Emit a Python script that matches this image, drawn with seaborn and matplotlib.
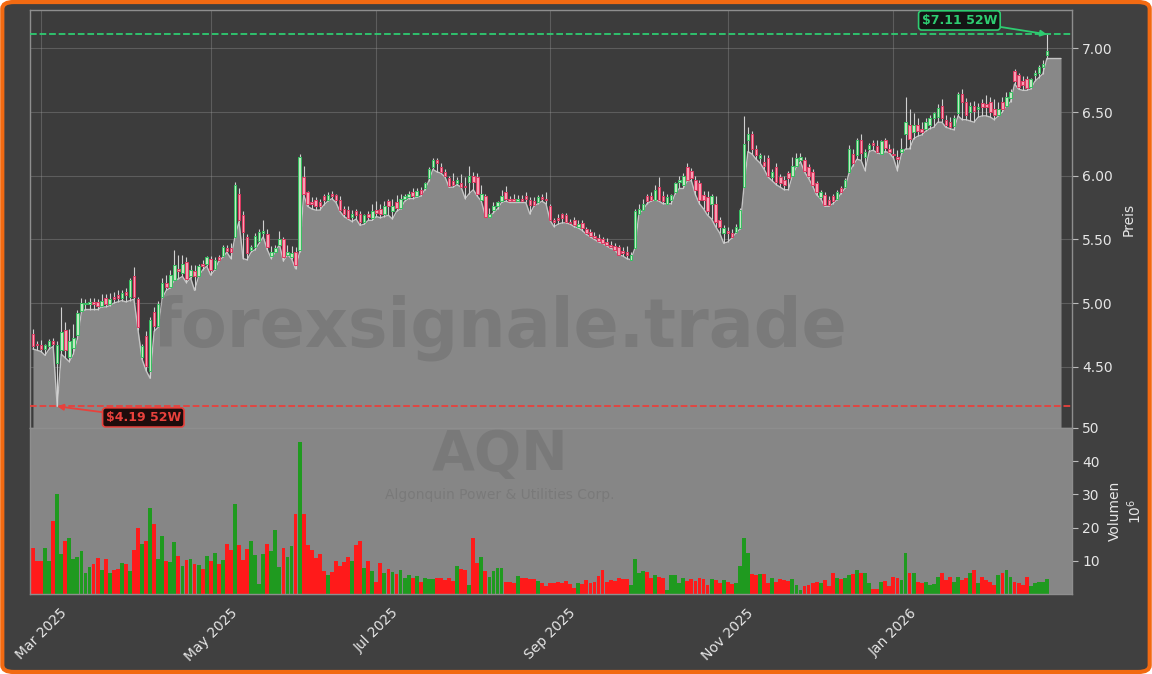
import numpy as np
import pandas as pd
import seaborn as sns
import matplotlib.pyplot as plt
import matplotlib.ticker as mticker
from matplotlib.patches import FancyBboxPatch

sns.set_style("dark")
plt.rcParams['font.family'] = ['DejaVu Sans']

ticker = "AQN"
company = "Algonquin Power & Utilities Corp."
watermark = "forexsignale.trade"

opens = [
    4.76, 4.68, 4.67, 4.64, 4.66, 4.70, 4.53, 4.63, 4.79, 4.58, 4.65, 4.75,
    4.94, 4.99, 4.99, 5.01, 5.01, 4.98, 5.04, 4.99, 5.05, 5.06, 5.04, 5.09,
    5.05, 5.21, 5.03, 4.58, 4.74, 4.47, 4.93, 4.82, 5.05, 5.16, 5.13, 5.18,
    5.27, 5.24, 5.32, 5.21, 5.25, 5.21, 5.31, 5.31, 5.35, 5.27, 5.36, 5.37,
    5.43, 5.43, 5.52, 5.86, 5.69, 5.52, 5.42, 5.44, 5.49, 5.55, 5.54, 5.37,
    5.40, 5.46, 5.50, 5.38, 5.36, 5.40, 5.42, 5.99, 5.87, 5.79, 5.81, 5.79,
    5.84, 5.81, 5.86, 5.85, 5.81, 5.74, 5.73, 5.68, 5.72, 5.70, 5.64, 5.70,
    5.67, 5.73, 5.74, 5.70, 5.80, 5.72, 5.79, 5.75, 5.82, 5.83, 5.87, 5.84,
    5.89, 5.90, 5.98, 6.07, 6.12, 6.07, 6.03, 5.98, 5.96, 5.94, 5.94, 5.92,
    5.95, 6.00, 5.99, 5.81, 5.84, 5.68, 5.73, 5.76, 5.80, 5.87, 5.82, 5.82,
    5.80, 5.82, 5.84, 5.81, 5.80, 5.79, 5.83, 5.82, 5.76, 5.65, 5.67, 5.70,
    5.69, 5.64, 5.65, 5.60, 5.63, 5.58, 5.56, 5.53, 5.51, 5.50, 5.48, 5.46,
    5.45, 5.44, 5.41, 5.40, 5.34, 5.43, 5.70, 5.73, 5.84, 5.84, 5.81, 5.91,
    5.84, 5.78, 5.81, 5.87, 5.95, 5.93, 6.07, 6.04, 5.97, 5.94, 5.85, 5.83,
    5.78, 5.78, 5.65, 5.55, 5.57, 5.55, 5.56, 5.59, 5.91, 6.28, 6.33, 6.21,
    6.14, 6.11, 6.14, 5.99, 6.07, 5.99, 5.97, 6.02, 6.00, 6.08, 6.12, 6.12,
    6.07, 6.03, 5.94, 5.83, 5.85, 5.81, 5.84, 5.82, 5.90, 5.91, 6.03, 6.17,
    6.16, 6.28, 6.15, 6.21, 6.26, 6.23, 6.17, 6.28, 6.21, 6.17, 6.15, 6.19,
    6.33, 6.40, 6.34, 6.40, 6.37, 6.37, 6.40, 6.45, 6.46, 6.55, 6.44, 6.42,
    6.39, 6.49, 6.64, 6.58, 6.50, 6.55, 6.52, 6.57, 6.56, 6.58, 6.52, 6.48,
    6.58, 6.55, 6.61, 6.82, 6.79, 6.74, 6.76, 6.70, 6.79, 6.81, 6.85, 6.95,
]
highs = [
    4.80, 4.70, 4.71, 4.68, 4.72, 4.73, 4.70, 4.97, 4.85, 4.80, 4.84, 4.95,
    5.04, 5.03, 5.04, 5.04, 5.03, 5.07, 5.07, 5.08, 5.09, 5.10, 5.10, 5.12,
    5.20, 5.28, 5.05, 4.68, 4.78, 4.89, 4.97, 5.02, 5.20, 5.22, 5.26, 5.42,
    5.38, 5.38, 5.36, 5.30, 5.30, 5.31, 5.34, 5.37, 5.37, 5.36, 5.38, 5.46,
    5.46, 5.47, 5.95, 5.90, 5.72, 5.54, 5.46, 5.55, 5.58, 5.65, 5.58, 5.45,
    5.46, 5.57, 5.52, 5.46, 5.45, 5.44, 6.17, 6.08, 5.88, 5.83, 5.83, 5.82,
    5.86, 5.87, 5.88, 5.86, 5.84, 5.76, 5.76, 5.73, 5.74, 5.72, 5.70, 5.72,
    5.78, 5.80, 5.78, 5.80, 5.82, 5.82, 5.85, 5.86, 5.86, 5.88, 5.90, 5.90,
    5.91, 5.95, 6.07, 6.14, 6.14, 6.10, 6.05, 6.00, 6.02, 5.99, 6.01, 5.99,
    6.08, 6.03, 6.02, 5.93, 5.86, 5.75, 5.79, 5.80, 5.89, 5.92, 5.84, 5.86,
    5.85, 5.85, 5.87, 5.83, 5.83, 5.85, 5.86, 5.87, 5.78, 5.67, 5.70, 5.71,
    5.71, 5.66, 5.68, 5.65, 5.65, 5.60, 5.58, 5.56, 5.54, 5.52, 5.51, 5.49,
    5.47, 5.46, 5.44, 5.45, 5.40, 5.74, 5.78, 5.82, 5.86, 5.87, 5.93, 5.99,
    5.88, 5.86, 5.86, 5.95, 6.00, 6.02, 6.10, 6.06, 6.00, 5.97, 5.88, 5.88,
    5.86, 5.84, 5.68, 5.61, 5.60, 5.58, 5.62, 5.75, 6.47, 6.38, 6.35, 6.24,
    6.18, 6.16, 6.16, 6.05, 6.10, 6.01, 6.00, 6.04, 6.15, 6.18, 6.18, 6.15,
    6.09, 6.05, 5.96, 5.89, 5.87, 5.84, 5.86, 5.89, 5.92, 5.98, 6.24, 6.21,
    6.30, 6.33, 6.21, 6.26, 6.28, 6.28, 6.28, 6.30, 6.25, 6.22, 6.20, 6.30,
    6.62, 6.52, 6.49, 6.45, 6.42, 6.45, 6.48, 6.50, 6.56, 6.60, 6.48, 6.46,
    6.48, 6.66, 6.68, 6.61, 6.58, 6.59, 6.57, 6.60, 6.63, 6.62, 6.60, 6.58,
    6.62, 6.66, 6.68, 6.84, 6.81, 6.78, 6.78, 6.77, 6.83, 6.87, 6.91, 7.11,
]
lows = [
    4.64, 4.63, 4.62, 4.59, 4.64, 4.66, 4.19, 4.60, 4.57, 4.54, 4.60, 4.72,
    4.93, 4.95, 4.95, 4.95, 4.95, 4.97, 4.97, 4.98, 5.00, 5.01, 5.02, 5.01,
    5.02, 5.03, 4.79, 4.56, 4.47, 4.41, 4.78, 4.81, 5.04, 5.10, 5.12, 5.18,
    5.19, 5.21, 5.16, 5.20, 5.10, 5.21, 5.26, 5.29, 5.22, 5.26, 5.33, 5.36,
    5.40, 5.35, 5.52, 5.64, 5.35, 5.34, 5.40, 5.42, 5.47, 5.52, 5.42, 5.35,
    5.40, 5.46, 5.33, 5.38, 5.35, 5.27, 5.40, 5.85, 5.76, 5.74, 5.73, 5.73,
    5.77, 5.80, 5.82, 5.79, 5.72, 5.68, 5.66, 5.64, 5.66, 5.61, 5.62, 5.65,
    5.65, 5.68, 5.67, 5.68, 5.69, 5.66, 5.72, 5.74, 5.80, 5.82, 5.82, 5.83,
    5.84, 5.89, 5.96, 6.05, 6.03, 6.02, 5.99, 5.91, 5.91, 5.93, 5.91, 5.82,
    5.86, 5.89, 5.84, 5.80, 5.68, 5.68, 5.71, 5.74, 5.79, 5.80, 5.79, 5.79,
    5.79, 5.79, 5.79, 5.70, 5.76, 5.78, 5.80, 5.78, 5.65, 5.60, 5.62, 5.63,
    5.63, 5.62, 5.60, 5.59, 5.57, 5.54, 5.52, 5.50, 5.48, 5.47, 5.45, 5.43,
    5.42, 5.38, 5.37, 5.35, 5.34, 5.43, 5.70, 5.73, 5.78, 5.80, 5.81, 5.80,
    5.78, 5.78, 5.78, 5.86, 5.90, 5.90, 5.96, 5.96, 5.85, 5.78, 5.74, 5.69,
    5.66, 5.60, 5.55, 5.47, 5.48, 5.51, 5.55, 5.58, 5.91, 6.19, 6.17, 6.13,
    6.10, 6.05, 5.99, 5.96, 5.93, 5.91, 5.89, 5.89, 6.00, 6.07, 6.11, 6.03,
    5.98, 5.92, 5.85, 5.82, 5.76, 5.76, 5.78, 5.81, 5.86, 5.90, 6.02, 6.08,
    6.13, 6.12, 6.04, 6.19, 6.20, 6.18, 6.17, 6.19, 6.18, 6.14, 6.04, 6.17,
    6.21, 6.21, 6.29, 6.31, 6.32, 6.35, 6.37, 6.38, 6.42, 6.42, 6.38, 6.37,
    6.36, 6.47, 6.44, 6.44, 6.43, 6.42, 6.46, 6.47, 6.47, 6.46, 6.44, 6.47,
    6.50, 6.55, 6.58, 6.72, 6.68, 6.67, 6.67, 6.68, 6.74, 6.77, 6.80, 6.92,
]
closes = [
    4.66, 4.67, 4.64, 4.67, 4.70, 4.68, 4.67, 4.77, 4.63, 4.70, 4.73, 4.92,
    5.00, 5.00, 5.01, 4.99, 4.98, 5.02, 4.99, 5.03, 5.03, 5.04, 5.08, 5.06,
    5.18, 5.05, 4.81, 4.66, 4.51, 4.87, 4.82, 4.99, 5.16, 5.13, 5.22, 5.30,
    5.25, 5.31, 5.19, 5.26, 5.21, 5.29, 5.29, 5.36, 5.26, 5.34, 5.34, 5.44,
    5.41, 5.40, 5.93, 5.65, 5.56, 5.39, 5.44, 5.53, 5.56, 5.57, 5.44, 5.40,
    5.43, 5.50, 5.36, 5.40, 5.39, 5.30, 6.15, 5.86, 5.78, 5.78, 5.76, 5.76,
    5.81, 5.85, 5.84, 5.81, 5.73, 5.70, 5.67, 5.70, 5.69, 5.64, 5.69, 5.68,
    5.72, 5.71, 5.70, 5.76, 5.76, 5.76, 5.75, 5.82, 5.84, 5.86, 5.84, 5.88,
    5.86, 5.94, 6.05, 6.12, 6.10, 6.03, 6.00, 5.92, 5.93, 5.97, 5.91, 5.91,
    6.00, 5.95, 5.86, 5.86, 5.68, 5.70, 5.76, 5.79, 5.84, 5.82, 5.80, 5.80,
    5.82, 5.80, 5.82, 5.77, 5.77, 5.83, 5.82, 5.81, 5.65, 5.64, 5.65, 5.67,
    5.64, 5.63, 5.61, 5.62, 5.59, 5.55, 5.53, 5.51, 5.49, 5.47, 5.46, 5.44,
    5.42, 5.38, 5.39, 5.38, 5.38, 5.72, 5.74, 5.78, 5.80, 5.81, 5.89, 5.81,
    5.80, 5.83, 5.85, 5.94, 5.97, 6.00, 5.97, 5.98, 5.89, 5.81, 5.81, 5.72,
    5.84, 5.64, 5.60, 5.59, 5.55, 5.52, 5.60, 5.73, 6.25, 6.33, 6.21, 6.16,
    6.16, 6.08, 6.00, 6.03, 5.95, 5.94, 5.93, 5.98, 6.08, 6.14, 6.15, 6.04,
    6.00, 5.93, 5.87, 5.87, 5.77, 5.77, 5.80, 5.87, 5.87, 5.97, 6.21, 6.10,
    6.28, 6.18, 6.19, 6.24, 6.24, 6.19, 6.27, 6.22, 6.19, 6.16, 6.13, 6.21,
    6.42, 6.29, 6.40, 6.35, 6.34, 6.42, 6.45, 6.49, 6.53, 6.45, 6.40, 6.38,
    6.45, 6.64, 6.58, 6.48, 6.55, 6.51, 6.54, 6.54, 6.54, 6.50, 6.48, 6.52,
    6.52, 6.62, 6.66, 6.74, 6.70, 6.71, 6.69, 6.76, 6.81, 6.85, 6.88, 6.98,
]
# volume in millions of shares
volume = [
    14, 10, 10, 14, 10, 22, 30, 12, 16, 17, 10.5, 11,
    13, 6.3, 8, 9, 10.7, 7.3, 10.4, 6.3, 7.3, 7.5, 9.2, 8.9,
    7, 13.4, 20, 15.2, 16, 25.8, 21.2, 10.4, 17.4, 10, 9.7, 15.6,
    11.3, 8.3, 10.1, 10.6, 9.1, 8.8, 7.6, 11.5, 10, 12.3, 9.1, 10.1,
    15.2, 13.4, 27, 14.9, 10.1, 13.7, 16, 11.8, 3.1, 12, 15.2, 13,
    19.4, 8, 14, 11, 14.4, 24.2, 45.7, 24, 14.9, 13.4, 10.7, 11.9,
    6.9, 5.7, 6.6, 9.8, 8.4, 9.6, 11, 9.8, 14.7, 16.1, 7.7, 9.8,
    6.8, 3.5, 9.4, 6.3, 7.6, 6.5, 6.1, 7.1, 4.7, 5.8, 4.7, 5.4,
    3.7, 4.7, 4.4, 4.4, 4.7, 4.7, 4.2, 4.7, 3.8, 8.3, 7.4, 7.2,
    2.6, 16.9, 9.4, 11, 6.8, 5.1, 6.9, 7.7, 7.7, 3.6, 3.6, 3.2,
    5.3, 4.7, 4.7, 4.4, 4.4, 4.0, 3.4, 2.4, 3.2, 3.4, 3.6, 3.4,
    3.8, 2.9, 1.7, 3.2, 2.9, 4.1, 3.4, 3.6, 5.4, 7.2, 3.7, 4.2,
    4.0, 4.9, 4.4, 4.4, 2.8, 10.4, 6.2, 6.8, 6.7, 4.9, 5.6, 5.1,
    4.7, 1.1, 5.6, 5.6, 3.4, 4.9, 3.8, 4.4, 4.0, 4.9, 4.5, 2.6,
    4.4, 4.1, 3.2, 4.1, 3.7, 2.9, 3.4, 8.4, 17, 12.4, 5.9, 5.7,
    5.9, 5.9, 3.2, 4.7, 3.7, 4.4, 4.1, 3.8, 4.4, 2.6, 1.1, 2.4,
    2.8, 3.4, 3.7, 3.4, 4.2, 2.4, 6.4, 4.9, 4.4, 4.7, 5.8, 5.9,
    7.1, 6.2, 6.4, 3.4, 1.4, 1.4, 3.6, 3.8, 2.4, 5.0, 4.7, 4.1,
    12.2, 6.2, 6.4, 3.7, 3.2, 3.7, 2.8, 2.9, 5.0, 6.4, 4.1, 5.0,
    3.7, 5.0, 4.2, 4.7, 6.4, 7.1, 3.2, 5.1, 4.2, 3.7, 2.7, 5.6,
    6.4, 7.1, 5.0, 3.7, 3.2, 2.8, 5.0, 2.4, 3.2, 3.7, 3.7, 4.4,
]
holidays = ["2025-04-18", "2025-05-26", "2025-06-19", "2025-07-04", "2025-09-01",
            "2025-11-27", "2025-12-25", "2026-01-01", "2026-01-19", "2026-02-16"]

days = pd.bdate_range("2025-02-27", "2026-02-27")
days = days[~days.isin(pd.to_datetime(holidays))]
df = pd.DataFrame({"Date": days, "Open": opens, "High": highs, "Low": lows,
                   "Close": closes, "Volume": volume})
df["i"] = np.arange(len(df))
up = (df.Close >= df.Open).values

# colours
BG = "#404040"
AXBG = "#3c3c3c"
FILL = "#888888"
TXT = "#e6e6e6"
GREEN = "#2ecc71"
RED = "#e8413c"

fig = plt.figure(figsize=(11.52, 6.74), dpi=100, facecolor="white")
fig.patches.append(FancyBboxPatch((0.002, 0.003), 0.996, 0.994,
                                  boxstyle="round,pad=0,rounding_size=0.01",
                                  transform=fig.transFigure, fc=BG, ec="#f26a12",
                                  lw=3, zorder=-10))

ax = fig.add_axes([0.026, 0.365, 0.9045, 0.620])
axv = fig.add_axes([0.026, 0.1187, 0.9045, 0.2463], sharex=ax)

ylo, yhi = 4.02, 7.30
ax.set_facecolor(AXBG)
axv.set_facecolor("#868686")

# area under the daily lows, carried flat a few bars past the last session
xf = np.append(df.i.values, df.i.values[-1] + 3.5)
lf = np.append(df.Low.values, df.Low.values[-1])
ax.fill_between(xf, lf, ylo, color=FILL, zorder=1, lw=0)
sns.lineplot(x=xf, y=lf, ax=ax, color="#c4c4c4", lw=1.0, zorder=2)

ax.text(0.451, 0.24, watermark, transform=ax.transAxes, ha="center", va="center",
        fontsize=48, fontweight="bold", color="black", alpha=0.10, zorder=2)

# candles
ax.vlines(df.i, df.Low, df.High, color="#d0d0d0", lw=0.8, zorder=3)
body_lo = np.minimum(df.Open, df.Close)
body_h = np.maximum(np.abs(df.Close - df.Open), 0.008)
face = np.where(up, "#c2e8c2", "#f7a0b4")
edge = np.where(up, "#35c060", "#de3a62")
ax.bar(df.i, body_h, bottom=body_lo, width=0.62, color=face, edgecolor=edge,
       linewidth=0.7, zorder=4)

# 52 week extremes
hi_i, lo_i = df.High.idxmax(), df.Low.idxmin()
hi, lo = df.High.max(), df.Low.min()
ax.axhline(hi, color=GREEN, ls="--", lw=1.3, zorder=3)
ax.axhline(lo, color=RED, ls="--", lw=1.3, zorder=3)
ax.annotate(f"${hi:.2f} 52W", xy=(hi_i, hi), xytext=(-63, 10), textcoords="offset points",
            ha="center", va="center", color=GREEN, fontsize=9, fontweight="bold",
            bbox=dict(boxstyle="round,pad=0.25", fc="#141414", ec=GREEN, lw=1.2),
            arrowprops=dict(arrowstyle="-|>", color=GREEN, lw=1.3, shrinkA=0, shrinkB=0),
            zorder=6)
ax.annotate(f"${lo:.2f} 52W", xy=(lo_i, lo), xytext=(62, -8), textcoords="offset points",
            ha="center", va="center", color=RED, fontsize=9, fontweight="bold",
            bbox=dict(boxstyle="round,pad=0.25", fc="#1e0c0c", ec=RED, lw=1.2),
            arrowprops=dict(arrowstyle="-|>", color=RED, lw=1.3, shrinkA=0, shrinkB=0),
            zorder=6)

# volume
axv.bar(df.i, df.Volume, width=0.95, color=np.where(up, "#1f9a1f", "#ff1a1a"),
        edgecolor="none", linewidth=0, zorder=2)
axv.text(0.451, 0.835, ticker, transform=axv.transAxes, ha="center", va="center",
         fontsize=40, fontweight="bold", color="black", alpha=0.09, zorder=1)
axv.text(0.451, 0.595, company, transform=axv.transAxes, ha="center", va="center",
         fontsize=10, color="black", alpha=0.09, zorder=1)

# axes, ticks
ax.set_xlim(-0.75, 257.2)
ax.set_ylim(ylo, yhi)
axv.set_ylim(0, 50)

month_start = df.groupby(df.Date.dt.to_period("M")).i.first()
major = month_start[[p.month % 2 == 1 for p in month_start.index]]
axv.xaxis.set_major_locator(mticker.FixedLocator(major.values))
axv.xaxis.set_minor_locator(mticker.FixedLocator(month_start.values))
axv.set_xticklabels([p.strftime("%b %Y") for p in major.index], rotation=45)
ax.tick_params(axis="x", which="both", length=0, labelbottom=False)

for a in (ax, axv):
    a.yaxis.tick_right()
    a.yaxis.set_label_position("right")
    a.tick_params(colors=TXT, labelsize=10, which="both")
    a.tick_params(axis="y", length=4, color="#bbbbbb")
    for s in a.spines.values():
        s.set_color("#8e8e8e")
        s.set_linewidth(1.0)

axv.tick_params(axis="x", which="major", length=5, color="#dddddd")
axv.tick_params(axis="x", which="minor", length=3, color="#dddddd")

ax.set_yticks([4.5, 5.0, 5.5, 6.0, 6.5, 7.0])
ax.yaxis.set_major_formatter(mticker.FormatStrFormatter("%.2f"))
axv.set_yticks([10, 20, 30, 40, 50])

ax.grid(True, color="#9c9c9c", alpha=0.35, lw=0.8)
axv.grid(False)

ax.set_ylabel("Preis", color=TXT, fontsize=10, labelpad=6)
axv.set_ylabel("Volumen\n$10^6$", color=TXT, fontsize=10, labelpad=6)
ax.set_xlabel("")
axv.set_xlabel("")

fig.savefig("out.png", dpi=100, facecolor=fig.get_facecolor())
